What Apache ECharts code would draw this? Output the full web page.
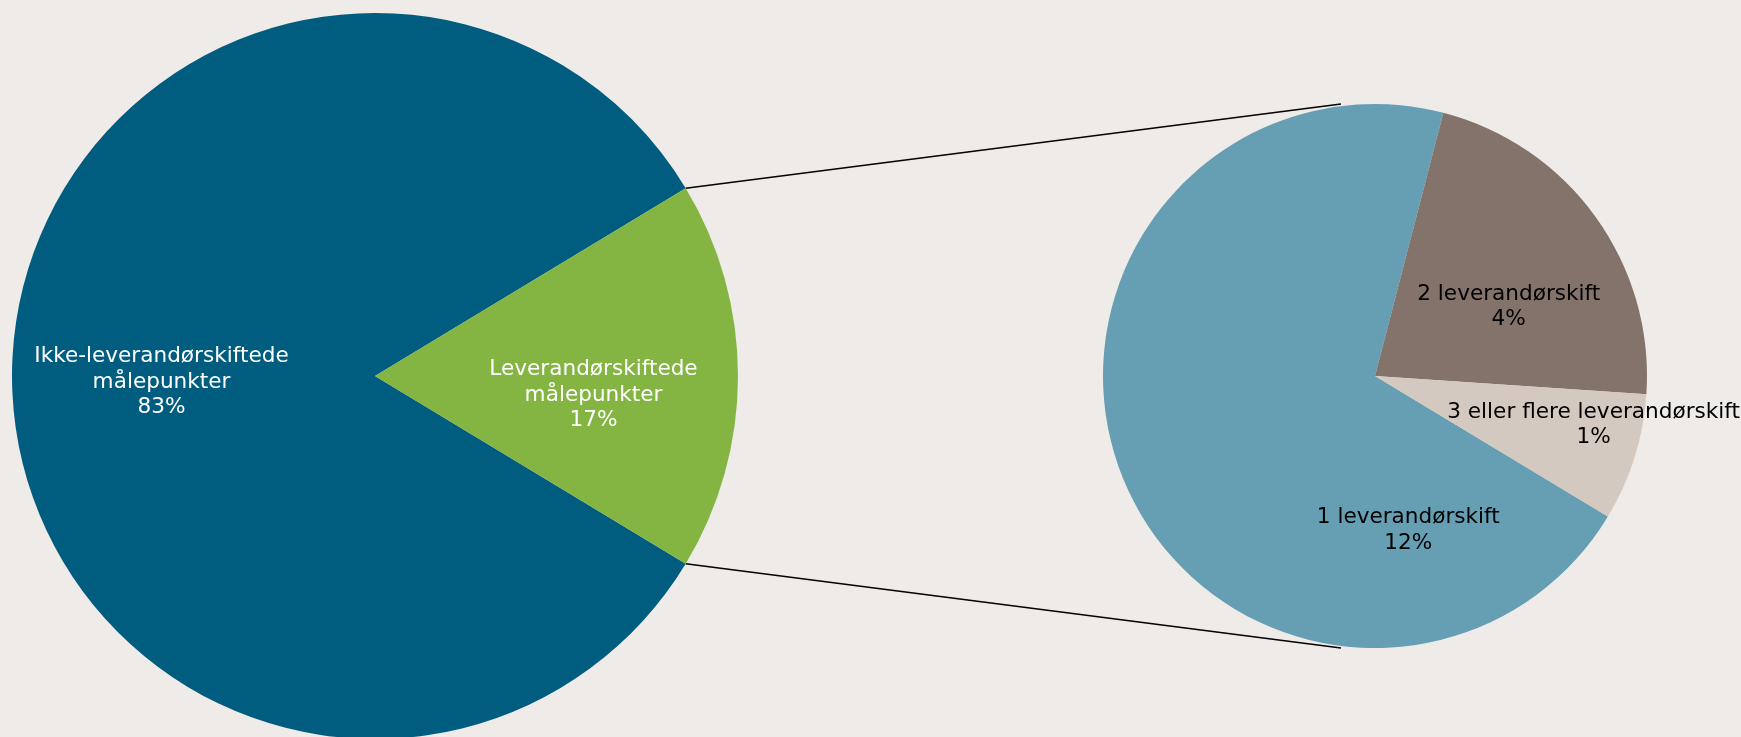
<!DOCTYPE html>
<html>
<head>
<meta charset="utf-8">
<script src="https://cdn.jsdelivr.net/npm/echarts@6/dist/echarts.min.js"></script>
<style>
  html, body { margin: 0; padding: 0; background: #efebe8; }
  #chart { width: 1741px; height: 737px; }
</style>
</head>
<body>
<div id="chart"></div>
<script>
// hovedfordeling (venstre kake)
const mainNames = ['Ikke-leverandørskiftede\nmålepunkter', 'Leverandørskiftede\nmålepunkter']
const mainValues = [82.7, 17.3]
const mainLabels = ['83%', '17%']
// oppdeling av leverandørskiftede (høyre kake)
const subNames = ['1 leverandørskift', '2 leverandørskift', '3 eller flere leverandørskift']
const subValues = [12.18, 3.81, 1.31]
const subLabels = ['12%', '4%', '1%']

const mainColors = ['#005d80', '#84b542']
const subColors = ['#669fb4', '#84736a', '#d4c9c0']

// layout
const leftC = [375, 376]
const leftR = 363
const rightC = [1375, 376]
const rightR = 272
const mainOffsets = [[-29, 6], [34, 19]]
const subOffsets = [[162, 102], [21, 12], [86, 7]]

const mainSum = mainValues.reduce((a, b) => a + b, 0)
const half = mainValues[1] / mainSum * Math.PI // half of green slice, radians
const leftStart = -half * 180 / Math.PI

// connector lines from green slice edges to the sub pie
const p1 = [leftC[0] + leftR * Math.cos(half), leftC[1] - leftR * Math.sin(half)]
const p2 = [leftC[0] + leftR * Math.cos(half), leftC[1] + leftR * Math.sin(half)]
const q1 = [rightC[0] - rightR * 0.125, rightC[1] - rightR]
const q2 = [rightC[0] - rightR * 0.125, rightC[1] + rightR]

const font = {
  fontFamily: 'DejaVu Sans',
  fontSize: 21.6,
  lineHeight: 25.5
}

const chart = echarts.init(document.getElementById('chart'))
chart.setOption({
  backgroundColor: '#efebe8',
  animation: false,
  series: [{
    type: 'pie',
    center: leftC,
    radius: [0, leftR],
    startAngle: leftStart,
    clockwise: true,
    silent: true,
    label: Object.assign({
      show: true,
      position: 'inside',
      color: '#fff',
      align: 'center',
      formatter: p => p.name + '\n' + mainLabels[p.dataIndex]
    }, font),
    labelLine: { show: false },
    labelLayout: p => ({ dx: mainOffsets[p.dataIndex][0], dy: mainOffsets[p.dataIndex][1] }),
    data: mainValues.map((v, i) => ({
      name: mainNames[i],
      value: v,
      itemStyle: { color: mainColors[i] }
    }))
  }, {
    type: 'pie',
    center: rightC,
    radius: [0, rightR],
    startAngle: -31.1,
    clockwise: true,
    silent: true,
    label: Object.assign({
      show: true,
      position: 'inside',
      color: '#000',
      align: 'center',
      formatter: p => p.name + '\n' + subLabels[p.dataIndex]
    }, font),
    labelLine: { show: false },
    labelLayout: p => ({ dx: subOffsets[p.dataIndex][0], dy: subOffsets[p.dataIndex][1] }),
    data: subValues.map((v, i) => ({
      name: subNames[i],
      value: v,
      itemStyle: { color: subColors[i] }
    }))
  }],
  graphic: [
    { type: 'line', shape: { x1: p1[0], y1: p1[1], x2: q1[0], y2: q1[1] }, style: { stroke: '#000', lineWidth: 1.5 } },
    { type: 'line', shape: { x1: p2[0], y1: p2[1], x2: q2[0], y2: q2[1] }, style: { stroke: '#000', lineWidth: 1.5 } }
  ]
})
</script>
</body>
</html>
